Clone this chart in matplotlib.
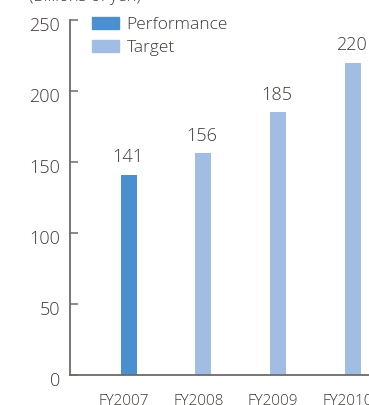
import matplotlib
matplotlib.use("Agg")
import matplotlib.pyplot as plt
import matplotlib.transforms as mtransforms
from matplotlib.patches import Patch

years = ["FY2007", "FY2008", "FY2009", "FY2010"]
values = [141, 156, 185, 220]
kinds = ["Performance", "Target", "Target", "Target"]
yticks = [0, 50, 100, 150, 200, 250]

colors = {"Performance": "#4a8fce", "Target": "#a1bde3"}
text_color = "#3f3a38"
axis_color = "#6f6a68"

plt.rcParams["font.family"] = ["Open Sans", "DejaVu Sans"]
plt.rcParams["font.weight"] = "light"

fig = plt.figure(figsize=(3.69, 4.05), dpi=100)
W, H = 369, 405
ax = fig.add_axes([70 / W, 30 / H, 1 - 70 / W, (375 - 20) / H])

x = list(range(len(years)))
ax.bar(x, values, width=0.215, color=[colors[k] for k in kinds], zorder=2)

for xi, v in zip(x, values):
    ax.annotate(str(v), (xi, v), xytext=(-1, 6), textcoords="offset points",
                ha="center", va="bottom", fontsize=13, color=text_color)

ax.set_xlim(-0.79, 3.22)
ax.set_ylim(0, 250)
ax.set_yticks(yticks)
ax.set_xticks(x)
ax.set_xticklabels(years)

for side in ("top", "right"):
    ax.spines[side].set_visible(False)
for side in ("left", "bottom"):
    ax.spines[side].set_color(axis_color)
    ax.spines[side].set_linewidth(1.3)

ax.tick_params(axis="y", direction="in", length=6, width=1.1, color=axis_color,
               labelsize=13, labelcolor=text_color, pad=7)
ax.tick_params(axis="x", length=0, labelsize=11, labelcolor=text_color, pad=13.5)

# nudge labels to sit like the printed layout
for lbl in ax.get_xticklabels():
    lbl.set_transform(lbl.get_transform() +
                      mtransforms.ScaledTranslation(-5 / 100, 0, fig.dpi_scale_trans))
for lbl in ax.get_yticklabels():
    lbl.set_transform(lbl.get_transform() +
                      mtransforms.ScaledTranslation(0, -4 / 100, fig.dpi_scale_trans))

fig.text(29 / W, 1 + 3 / H, "(Billions of yen)", ha="left", va="center",
         fontsize=12, color=text_color)

handles = [Patch(color=colors["Performance"], label="Performance"),
           Patch(color=colors["Target"], label="Target")]
ax.legend(handles=handles, loc="upper left", bbox_to_anchor=(92 / W, 1 - 17 / H),
          bbox_transform=fig.transFigure, frameon=False, fontsize=12.5,
          handlelength=1.55, handleheight=0.65, handletextpad=0.45,
          labelspacing=0.4, borderaxespad=0, borderpad=0,
          labelcolor=text_color)

fig.savefig("out.png", dpi=100)
